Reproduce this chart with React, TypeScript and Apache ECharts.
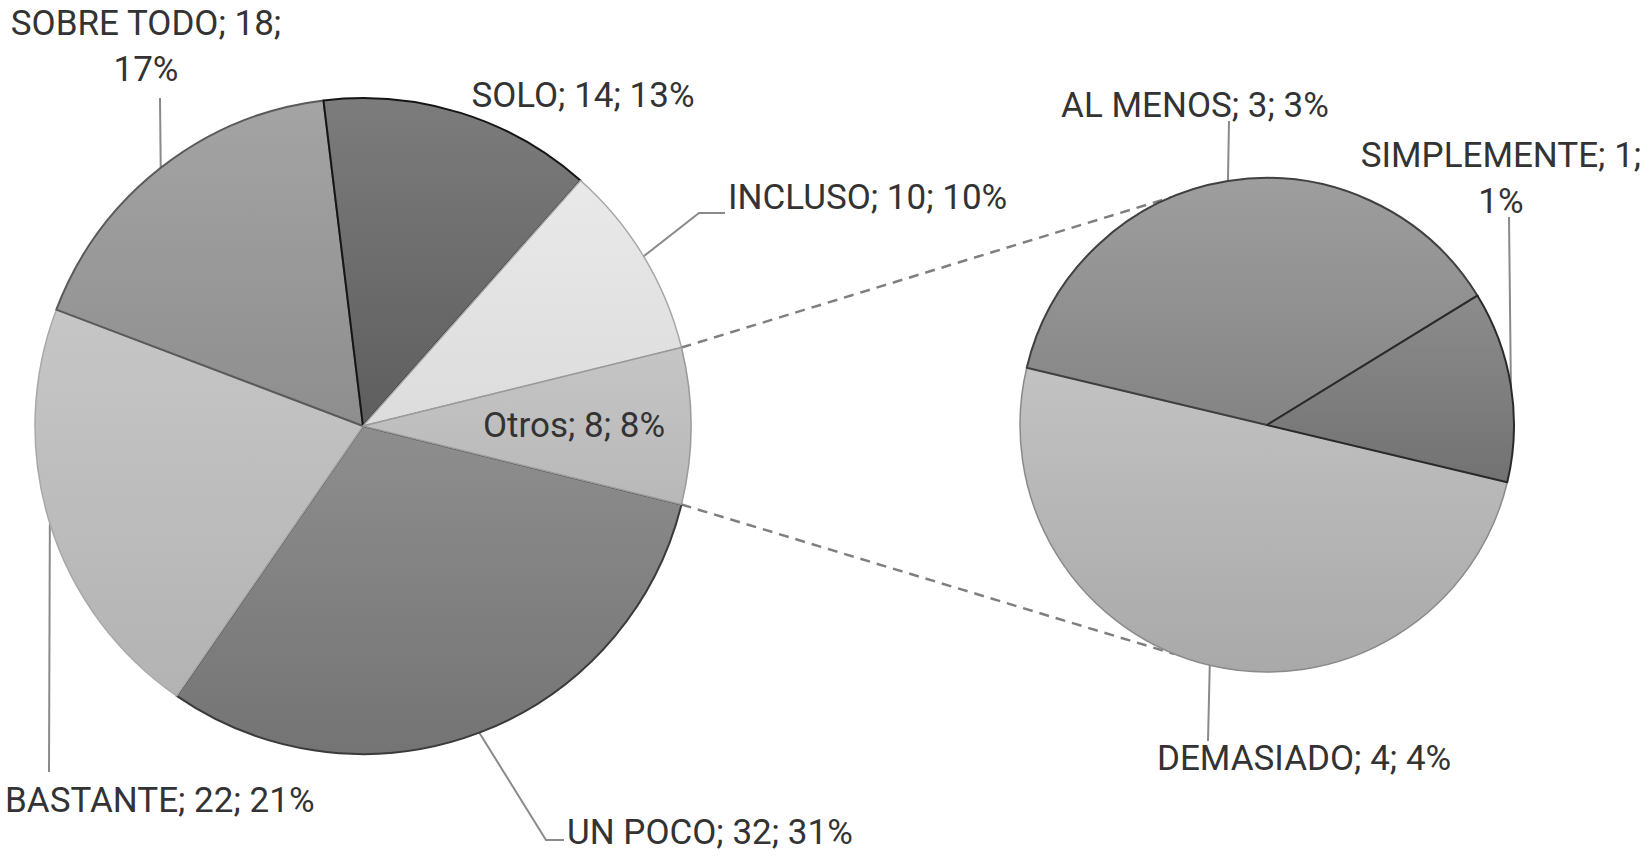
import React, { useEffect, useRef } from "react";
import * as echarts from "echarts";

// ---- data ----
const mainNames = ["UN POCO", "BASTANTE", "SOBRE TODO", "SOLO", "INCLUSO", "Otros"];
const mainValues = [32, 22, 18, 14, 10, 8];
const subNames = ["DEMASIADO", "AL MENOS", "SIMPLEMENTE"];
const subValues = [4, 3, 1];
const wrappedNames = ["SOBRE TODO", "SIMPLEMENTE"];

// ---- styles / layout ----
const FONT = "Roboto";
const FONT_SIZE = 35;
const TEXT_COLOR = "#333333";
const LEADER_COLOR = "#8a8a8a";

const MAIN_C = [363, 426];
const MAIN_R = 328;
const SUB_C = [1267, 425];
const SUB_R = 247;

const sliceStyle: Record<string, { top: string; bottom: string; border: string; bw: number }> = {
  "UN POCO": { top: "#8e8e8e", bottom: "#747474", border: "#3a3a3a", bw: 2 },
  BASTANTE: { top: "#c6c6c6", bottom: "#b3b3b3", border: "#a8a8a8", bw: 1.5 },
  "SOBRE TODO": { top: "#a4a4a4", bottom: "#8e8e8e", border: "#5a5a5a", bw: 2 },
  SOLO: { top: "#7c7c7c", bottom: "#5e5e5e", border: "#151515", bw: 2 },
  INCLUSO: { top: "#e9e9e9", bottom: "#dcdcdc", border: "#a6a6a6", bw: 1.5 },
  Otros: { top: "#c5c5c5", bottom: "#b8b8b8", border: "#9a9a9a", bw: 1.5 },
  DEMASIADO: { top: "#c2c2c2", bottom: "#a9a9a9", border: "#8a8a8a", bw: 1.5 },
  "AL MENOS": { top: "#9e9e9e", bottom: "#848484", border: "#404040", bw: 2 },
  SIMPLEMENTE: { top: "#8c8c8c", bottom: "#727272", border: "#2a2a2a", bw: 2 },
};

// label anchor (x, y, align) and leader elbow points
const labelPos: Record<string, { x: number; y: number; align: string; line?: number[][] }> = {
  "UN POCO": { x: 567, y: 832, align: "left", line: [[546, 840], [564, 840]] },
  BASTANTE: { x: 5, y: 800, align: "left", line: [[49, 772]] },
  "SOBRE TODO": { x: 146, y: 46, align: "center", line: [[160, 98]] },
  SOLO: { x: 583, y: 95, align: "center" },
  INCLUSO: { x: 728, y: 197, align: "left", line: [[699, 213], [725, 213]] },
  Otros: { x: 574, y: 425, align: "center" },
  DEMASIADO: { x: 1157, y: 758, align: "left", line: [[1208, 741]] },
  "AL MENOS": { x: 1195, y: 105, align: "center", line: [[1229, 121]] },
  SIMPLEMENTE: { x: 1501, y: 178, align: "center", line: [[1509, 217]] },
};

const total = mainValues.reduce((a, b) => a + b, 0);

function grad(top: string, bottom: string) {
  return new echarts.graphic.LinearGradient(0, 0, 0, 1, [
    { offset: 0, color: top },
    { offset: 1, color: bottom },
  ]);
}

function buildData(names: string[], values: number[]) {
  return names.map((name, i) => {
    const s = sliceStyle[name];
    const hasLine = !!labelPos[name].line;
    return {
      name,
      value: values[i],
      itemStyle: { color: grad(s.top, s.bottom), borderColor: s.border, borderWidth: s.bw },
      labelLine: { show: hasLine },
    };
  });
}

function fmt(p: any) {
  const pct = Math.round((p.value / total) * 100);
  if (wrappedNames.includes(p.name)) return `${p.name}; ${p.value};\n${pct}%`;
  return `${p.name}; ${p.value}; ${pct}%`;
}

function makeLayout(names: string[]) {
  return (params: any) => {
    const name = names[params.dataIndex];
    const pos = labelPos[name];
    const out: any = { x: pos.x, y: pos.y, align: pos.align, verticalAlign: "middle" };
    if (pos.line && params.labelLinePoints && params.labelLinePoints[0]) {
      out.labelLinePoints = [params.labelLinePoints[0], ...pos.line];
    }
    return out;
  };
}

export default function App() {
  const ref = useRef<HTMLDivElement>(null);
  useEffect(() => {
    document.body.style.margin = "0";
    const chart = echarts.init(ref.current!, undefined, { renderer: "svg" });

    const otrosHalf = ((mainValues[mainNames.indexOf("Otros")] / total) * 360) / 2;
    const mainStart = -otrosHalf;
    const rad = (d: number) => (d * Math.PI) / 180;
    const pt = (c: number[], r: number, deg: number) => [c[0] + r * Math.cos(rad(deg)), c[1] - r * Math.sin(rad(deg))];
    const a1 = pt(MAIN_C, MAIN_R, otrosHalf);
    const a2 = pt(MAIN_C, MAIN_R, -otrosHalf);
    const b1 = pt(SUB_C, SUB_R, 112.7);
    const b2 = pt(SUB_C, SUB_R, -112);

    const labelCommon = {
      show: true,
      formatter: fmt,
      fontFamily: FONT,
      fontSize: FONT_SIZE,
      color: TEXT_COLOR,
      lineHeight: 46,
    };
    const lineCommon = {
      smooth: false,
      length: 10,
      length2: 10,
      lineStyle: { color: LEADER_COLOR, width: 2 },
    };

    chart.setOption({
      animation: false,
      backgroundColor: "#ffffff",
      graphic: [
        {
          type: "line",
          z: 1,
          shape: { x1: a1[0], y1: a1[1], x2: b1[0], y2: b1[1] },
          style: { stroke: "#7f7f7f", lineWidth: 2.5, lineDash: [10, 7] },
        },
        {
          type: "line",
          z: 1,
          shape: { x1: a2[0], y1: a2[1], x2: b2[0], y2: b2[1] },
          style: { stroke: "#7f7f7f", lineWidth: 2.5, lineDash: [10, 7] },
        },
      ],
      series: [
        {
          type: "pie",
          center: MAIN_C,
          radius: MAIN_R,
          startAngle: mainStart,
          clockwise: true,
          avoidLabelOverlap: false,
          silent: true,
          label: labelCommon,
          labelLine: lineCommon,
          labelLayout: makeLayout(mainNames),
          data: buildData(mainNames, mainValues),
        },
        {
          type: "pie",
          center: SUB_C,
          radius: SUB_R,
          startAngle: -13.4,
          clockwise: true,
          avoidLabelOverlap: false,
          silent: true,
          label: labelCommon,
          labelLine: lineCommon,
          labelLayout: makeLayout(subNames),
          data: buildData(subNames, subValues),
        },
      ],
    });
    return () => chart.dispose();
  }, []);
  return <div ref={ref} style={{ width: 1647, height: 867 }} />;
}
